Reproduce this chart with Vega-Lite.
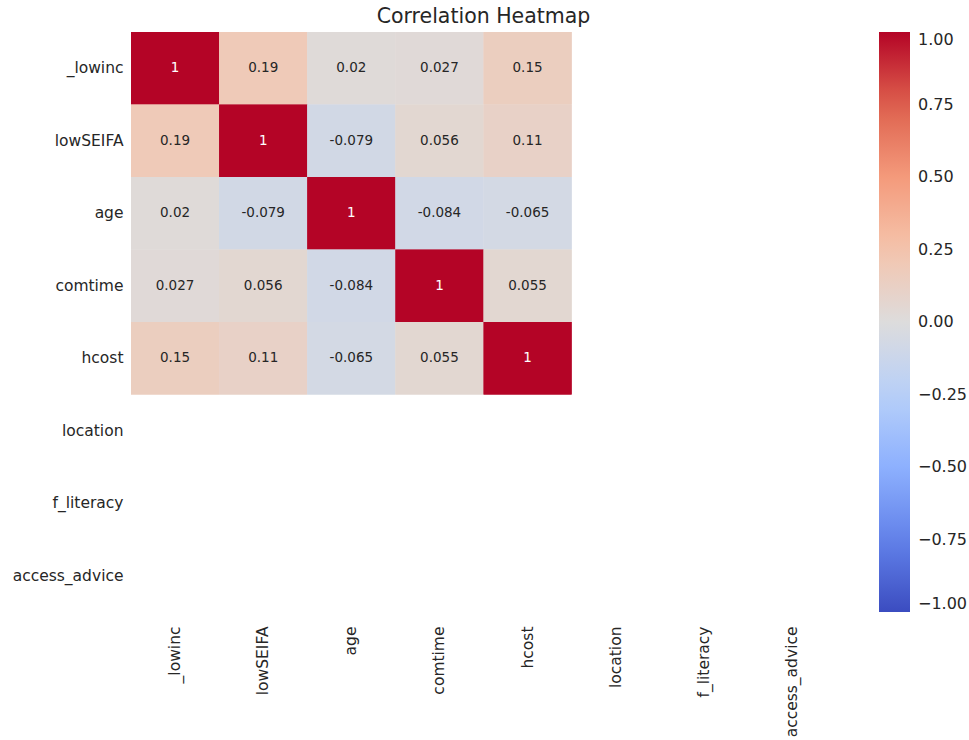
{
  "$schema": "https://vega.github.io/schema/vega-lite/v6.json",
  "width": 705,
  "height": 580,
  "padding": {"left": 12, "top": 6, "right": 5, "bottom": 5},
  "background": "white",
  "title": {"text": "Correlation Heatmap", "font": "DejaVu Sans", "fontSize": 20.5, "fontWeight": "normal", "color": "#262626", "anchor": "middle", "offset": 5},
  "config": {"view": {"stroke": null}, "font": "DejaVu Sans"},
  "data": {"values": [
    {"x": "_lowinc", "y": "_lowinc", "v": 1},
    {"x": "lowSEIFA", "y": "_lowinc", "v": 0.19},
    {"x": "age", "y": "_lowinc", "v": 0.02},
    {"x": "comtime", "y": "_lowinc", "v": 0.027},
    {"x": "hcost", "y": "_lowinc", "v": 0.15},
    {"x": "_lowinc", "y": "lowSEIFA", "v": 0.19},
    {"x": "lowSEIFA", "y": "lowSEIFA", "v": 1},
    {"x": "age", "y": "lowSEIFA", "v": -0.079},
    {"x": "comtime", "y": "lowSEIFA", "v": 0.056},
    {"x": "hcost", "y": "lowSEIFA", "v": 0.11},
    {"x": "_lowinc", "y": "age", "v": 0.02},
    {"x": "lowSEIFA", "y": "age", "v": -0.079},
    {"x": "age", "y": "age", "v": 1},
    {"x": "comtime", "y": "age", "v": -0.084},
    {"x": "hcost", "y": "age", "v": -0.065},
    {"x": "_lowinc", "y": "comtime", "v": 0.027},
    {"x": "lowSEIFA", "y": "comtime", "v": 0.056},
    {"x": "age", "y": "comtime", "v": -0.084},
    {"x": "comtime", "y": "comtime", "v": 1},
    {"x": "hcost", "y": "comtime", "v": 0.055},
    {"x": "_lowinc", "y": "hcost", "v": 0.15},
    {"x": "lowSEIFA", "y": "hcost", "v": 0.11},
    {"x": "age", "y": "hcost", "v": -0.065},
    {"x": "comtime", "y": "hcost", "v": 0.055},
    {"x": "hcost", "y": "hcost", "v": 1}
  ]},
  "encoding": {
    "x": {"field": "x", "type": "nominal", "sort": null,
      "scale": {"domain": ["_lowinc", "lowSEIFA", "age", "comtime", "hcost", "location", "f_literacy", "access_advice"], "paddingInner": 0, "paddingOuter": 0},
      "axis": {"title": null, "labelAngle": -90, "labelFontSize": 15.5, "labelColor": "#262626", "labelFont": "DejaVu Sans", "ticks": false, "domain": false, "labelPadding": 14, "labelBaseline": "middle"}},
    "y": {"field": "y", "type": "nominal", "sort": null,
      "scale": {"domain": ["_lowinc", "lowSEIFA", "age", "comtime", "hcost", "location", "f_literacy", "access_advice"], "paddingInner": 0, "paddingOuter": 0},
      "axis": {"title": null, "labelFontSize": 15.5, "labelColor": "#262626", "labelFont": "DejaVu Sans", "ticks": false, "domain": false, "labelPadding": 8}}
  },
  "layer": [
    {"mark": {"type": "rect", "strokeWidth": 0},
      "encoding": {
        "color": {"field": "v", "type": "quantitative",
          "scale": {"domain": [-1, -0.75, -0.5, -0.25, 0, 0.25, 0.5, 0.75, 1], "range": ["#3b4cc0", "#6282ea", "#8db0fe", "#b8d0f9", "#dddcdc", "#f5c4ac", "#f49a7b", "#de604d", "#b40426"], "interpolate": "rgb"},
          "legend": {"type": "gradient", "direction": "vertical", "title": null, "gradientLength": 580, "gradientThickness": 31, "offset": 43, "values": [-1, -0.75, -0.5, -0.25, 0, 0.25, 0.5, 0.75, 1], "format": ".2f", "labelFontSize": 16, "labelColor": "#262626", "labelFont": "DejaVu Sans", "labelOffset": 8, "gradientStrokeWidth": 0, "labelOverlap": false}}}},
    {"mark": {"type": "rect", "strokeWidth": 0},
      "encoding": {
        "color": {"field": "v", "type": "quantitative"}}},
    {"mark": {"type": "text", "fontSize": 13.5, "font": "DejaVu Sans"},
      "encoding": {"text": {"field": "v", "type": "nominal"},
        "color": {"condition": {"test": "datum.v > 0.6", "value": "white"}, "value": "#262626"}}}
  ]
}
